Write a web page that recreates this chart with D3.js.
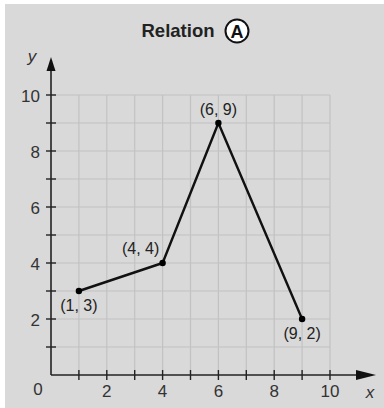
<!DOCTYPE html>
<html><head><meta charset="utf-8">
<script src="https://cdn.jsdelivr.net/npm/d3@7"></script>
<style>body{margin:0;background:#fff}svg{display:block}text{font-family:"Liberation Sans",Arial,sans-serif}</style>
</head><body>
<script>
const xs = [1, 4, 6, 9];
const ys = [3, 4, 9, 2];
const pointLabels = ["(1, 3)", "(4, 4)", "(6, 9)", "(9, 2)"];
const majorTicks = [2, 4, 6, 8, 10];
const title = "Relation";
const badge = "A";

const W = 384, H = 408;
const svg = d3.select("body").append("svg").attr("width", W).attr("height", H);
svg.append("rect").attr("x", 5).attr("y", 4).attr("width", W - 5).attr("height", H - 4).attr("fill", "#d9d9d9");

const x = d3.scaleLinear().domain([0, 10]).range([51, 330]);
const y = d3.scaleLinear().domain([0, 10]).range([375, 95]);
const all = d3.range(1, 11);

// grid
const g = svg.append("g");
g.selectAll(".vg").data(all).join("line")
  .attr("x1", d => x(d)).attr("x2", d => x(d)).attr("y1", y(0)).attr("y2", y(10))
  .attr("stroke", "#c2c2c2").attr("stroke-width", 1.2);
g.selectAll(".hg").data(all).join("line")
  .attr("y1", d => y(d)).attr("y2", d => y(d)).attr("x1", x(0)).attr("x2", x(10))
  .attr("stroke", "#c2c2c2").attr("stroke-width", 1.2);

// axes
const ax = "#222";
svg.append("line").attr("x1", x(0)).attr("x2", 360).attr("y1", y(0)).attr("y2", y(0)).attr("stroke", ax).attr("stroke-width", 1.6);
svg.append("line").attr("x1", x(0)).attr("x2", x(0)).attr("y1", y(0)).attr("y2", 66).attr("stroke", ax).attr("stroke-width", 1.6);
svg.append("path").attr("d", `M${x(0)},57 L${x(0)-4.5},71 L${x(0)+4.5},71 Z`).attr("fill", "#111");
svg.append("path").attr("d", `M376,${y(0)} L356,${y(0)-5} L356,${y(0)+5} Z`).attr("fill", "#111");

// ticks
svg.selectAll(".xt").data(all).join("line")
  .attr("x1", d => x(d)).attr("x2", d => x(d)).attr("y1", y(0) - 5).attr("y2", y(0) + 5)
  .attr("stroke", ax).attr("stroke-width", 1.4);
svg.selectAll(".yt").data(all).join("line")
  .attr("y1", d => y(d)).attr("y2", d => y(d)).attr("x1", x(0) - 5).attr("x2", x(0) + 5)
  .attr("stroke", ax).attr("stroke-width", 1.4);

// tick labels
const fs = 17;
svg.selectAll(".xl").data(majorTicks).join("text")
  .attr("x", d => x(d)).attr("y", 397).attr("text-anchor", "middle")
  .attr("font-size", fs).attr("fill", "#333").text(d => d);
svg.selectAll(".yl").data(majorTicks).join("text")
  .attr("x", 40).attr("y", d => y(d) + 6.5).attr("text-anchor", "end")
  .attr("font-size", fs).attr("fill", "#333").text(d => d);
svg.append("text").attr("x", 38).attr("y", 395).attr("text-anchor", "middle").attr("font-size", fs).attr("fill", "#333").text("0");
svg.append("text").attr("x", 370).attr("y", 398).attr("text-anchor", "middle").attr("font-size", fs).attr("font-style", "italic").attr("fill", "#333").text("x");
svg.append("text").attr("x", 32).attr("y", 62).attr("text-anchor", "middle").attr("font-size", fs).attr("font-style", "italic").attr("fill", "#333").text("y");

// title
svg.append("text").attr("x", 178).attr("y", 37).attr("text-anchor", "middle")
  .attr("font-size", 18.5).attr("font-weight", "bold").attr("fill", "#222").text(title);
svg.append("circle").attr("cx", 237).attr("cy", 31).attr("r", 11.5).attr("fill", "#fff").attr("stroke", "#111").attr("stroke-width", 2);
svg.append("text").attr("x", 237).attr("y", 37.5).attr("text-anchor", "middle")
  .attr("font-size", 18).attr("font-weight", "bold").attr("fill", "#111").text(badge);

// data line
const pts = xs.map((d, i) => [d, ys[i]]);
svg.append("path").datum(pts)
  .attr("d", d3.line().x(d => x(d[0])).y(d => y(d[1])))
  .attr("fill", "none").attr("stroke", "#111").attr("stroke-width", 2.4).attr("stroke-linejoin", "round");
svg.selectAll(".pt").data(pts).join("circle")
  .attr("cx", d => x(d[0])).attr("cy", d => y(d[1])).attr("r", 3.2).attr("fill", "#000");

// point labels: offsets per point
const offs = [[0, 20], [-22, -9], [0, -8], [0, 20]];
svg.selectAll(".pl").data(pts).join("text")
  .attr("x", (d, i) => x(d[0]) + offs[i][0]).attr("y", (d, i) => y(d[1]) + offs[i][1])
  .attr("text-anchor", "middle").attr("font-size", 16).attr("fill", "#222")
  .text((d, i) => pointLabels[i]);
</script>
</body></html>
